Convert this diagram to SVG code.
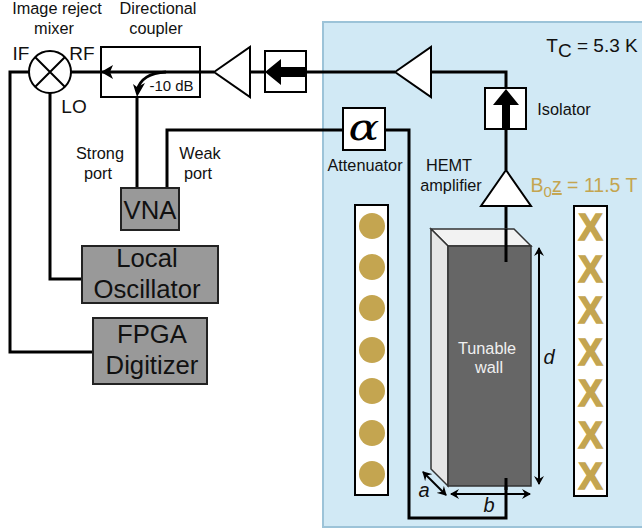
<svg xmlns="http://www.w3.org/2000/svg" width="642" height="531" viewBox="0 0 642 531">
<style>
text{font-family:"Liberation Sans",Arial,sans-serif;fill:#111;text-anchor:middle}
.w{fill:none;stroke:#000;stroke-width:3;stroke-linejoin:miter}
.t{fill:none;stroke:#000;stroke-width:2}
.b{fill:#fff;stroke:#000;stroke-width:2}
.g{fill:#999;stroke:#222;stroke-width:2}
.s{font-size:16.3px}
.m{font-size:19px}
.l{font-size:25.7px}
.i{font-style:italic;font-size:20px}
.c{fill:#c4a550}
.x{font-size:36px;font-weight:bold;fill:#c4a550;stroke:#c4a550;stroke-width:1.5}
</style>
<defs>
<marker id="ah" markerWidth="10" markerHeight="10" refX="8" refY="5" orient="auto-start-reverse" markerUnits="userSpaceOnUse"><path d="M0 0L9 5L0 10L3 5Z" fill="#000"/></marker>
</defs>
<rect id="cryostat" x="323" y="22" width="330" height="505" fill="#d1e9f5" stroke="#9cc3d8" stroke-width="2"/>
<g id="connectors">
<path class="w" d="M29 72H10V352H93"/>
<path class="w" d="M50 93V279H83"/>
<path class="w" d="M71 72H214"/>
<path class="w" d="M250 72H395"/>
<path class="w" d="M431 72H506V170"/>
<path class="w" d="M506 206V262"/>
<path class="w" d="M137 97V188"/>
<path class="w" d="M167 188V130H343"/>
<path class="w" d="M385 130H409V518H506V478"/>
</g>
<g id="coupler">
<rect class="t" x="101" y="47" width="99" height="50"/>
<path d="M101 72L113 65L110 72L113 79Z" fill="#000"/>
<path d="M166 72C150 73 140 78 137 91" fill="none" stroke="#000" stroke-width="3"/>
<path d="M137 97L133 84L137 87L145 83Z" fill="#000"/>
<text x="171.500" y="91" style="font-size:15px">-10 dB</text>
</g>
<g id="mixer">
<circle class="b" cx="50" cy="72" r="21"/>
<path class="t" d="M35 57L65 87M65 57L35 87"/>
<text class="m" x="21" y="60">IF</text>
<text class="m" x="82" y="60">RF</text>
<text class="m" x="74" y="113">LO</text>
</g>
<text class="s" x="57" y="14">Image reject</text>
<text class="s" x="54" y="34">mixer</text>
<text class="s" x="158" y="14">Directional</text>
<text class="s" x="156" y="34">coupler</text>
<text class="s" x="100" y="159">Strong</text>
<text class="s" x="98" y="179">port</text>
<text class="s" x="200" y="159">Weak</text>
<text class="s" x="198" y="179">port</text>
<g id="amp1"><path class="b" d="M214 72L250 47V97Z"/></g>
<g id="isolator1"><rect class="b" x="265" y="51" width="41" height="41"/><path d="M306 67H281V59L265 72L281 85V77H306Z" fill="#000"/></g>
<g id="amp2"><path class="b" d="M395 72L431 47V97Z"/></g>
<g id="isolator2"><rect class="b" x="485" y="88" width="41" height="41"/><path d="M502 130V105H493L506 89L519 105H510V130Z" fill="#000"/><text class="s" x="564" y="115">Isolator</text></g>
<g id="attenuator"><rect class="b" x="343" y="108" width="42" height="42"/><text transform="translate(364 140) scale(1.2 1)" style="font-family:'DejaVu Serif','Liberation Serif',serif;font-style:italic;font-size:38px;fill:#000">α</text><text class="s" x="365" y="171">Attenuator</text></g>
<g id="hemt"><path class="b" d="M506 170L481 206H531Z"/><text class="s" x="449" y="171">HEMT</text><text class="s" x="451" y="191">amplifier</text></g>
<text x="592" y="52" style="font-size:19px">T<tspan dy="5">C</tspan><tspan dy="-5"> = 5.3 K</tspan></text>
<text x="584" y="192" style="font-size:19.5px;fill:#c4a550">B<tspan font-size="15" dy="5">0</tspan><tspan dy="-5" text-decoration="underline">z</tspan> = 11.5 T</text>
<g id="wall">
<path d="M431 229H514L531 246H448Z" fill="#f2f2f2" stroke="#333" stroke-width="1.5"/>
<path d="M431 229L448 246V486L431 469Z" fill="#e6e6e6" stroke="#333" stroke-width="1.5"/>
<rect x="448" y="246" width="83" height="240" fill="#666" stroke="#333" stroke-width="1.5"/>
<text class="s" x="487" y="354" style="fill:#f0f0f0">Tunable</text>
<text class="s" x="489" y="373" style="fill:#f0f0f0">wall</text>
<path class="w" d="M506 229V262"/>
<path class="w" d="M506 478V490"/>
</g>
<g id="dimensions">
<path class="t" d="M539 248V484" marker-start="url(#ah)" marker-end="url(#ah)"/>
<path class="t" d="M451 494H530" marker-start="url(#ah)" marker-end="url(#ah)"/>
<path class="t" d="M423 472L446 495" marker-start="url(#ah)" marker-end="url(#ah)"/>
<text class="i" x="549" y="364">d</text>
<text class="i" x="424" y="497">a</text>
<text class="i" x="489" y="512">b</text>
</g>
<g id="magnet-left">
<rect class="b" x="355" y="205" width="33" height="290"/>
<circle class="c" cx="372" cy="226" r="13"/><circle class="c" cx="372" cy="267" r="13"/><circle class="c" cx="372" cy="308" r="13"/><circle class="c" cx="372" cy="350" r="13"/><circle class="c" cx="372" cy="391" r="13"/><circle class="c" cx="372" cy="433" r="13"/><circle class="c" cx="372" cy="474" r="13"/>
</g>
<g id="magnet-right">
<rect class="b" x="574" y="206" width="33" height="290"/>
<text class="x" x="590.500" y="240">X</text><text class="x" x="590.500" y="282">X</text><text class="x" x="590.500" y="323">X</text><text class="x" x="590.500" y="365">X</text><text class="x" x="590.500" y="406">X</text><text class="x" x="590.500" y="448">X</text><text class="x" x="590.500" y="489">X</text>
</g>
<g id="vna"><rect class="g" x="121" y="188" width="58" height="42"/><text class="l" x="150" y="219">VNA</text></g>
<g id="lo"><rect class="g" x="82" y="246" width="136" height="57"/><text class="l" x="147" y="267">Local</text><text class="l" x="147" y="298">Oscillator</text></g>
<g id="fpga"><rect class="g" x="93" y="318" width="114" height="66"/><text class="l" x="152" y="343">FPGA</text><text class="l" x="152" y="374">Digitizer</text></g>
</svg>
